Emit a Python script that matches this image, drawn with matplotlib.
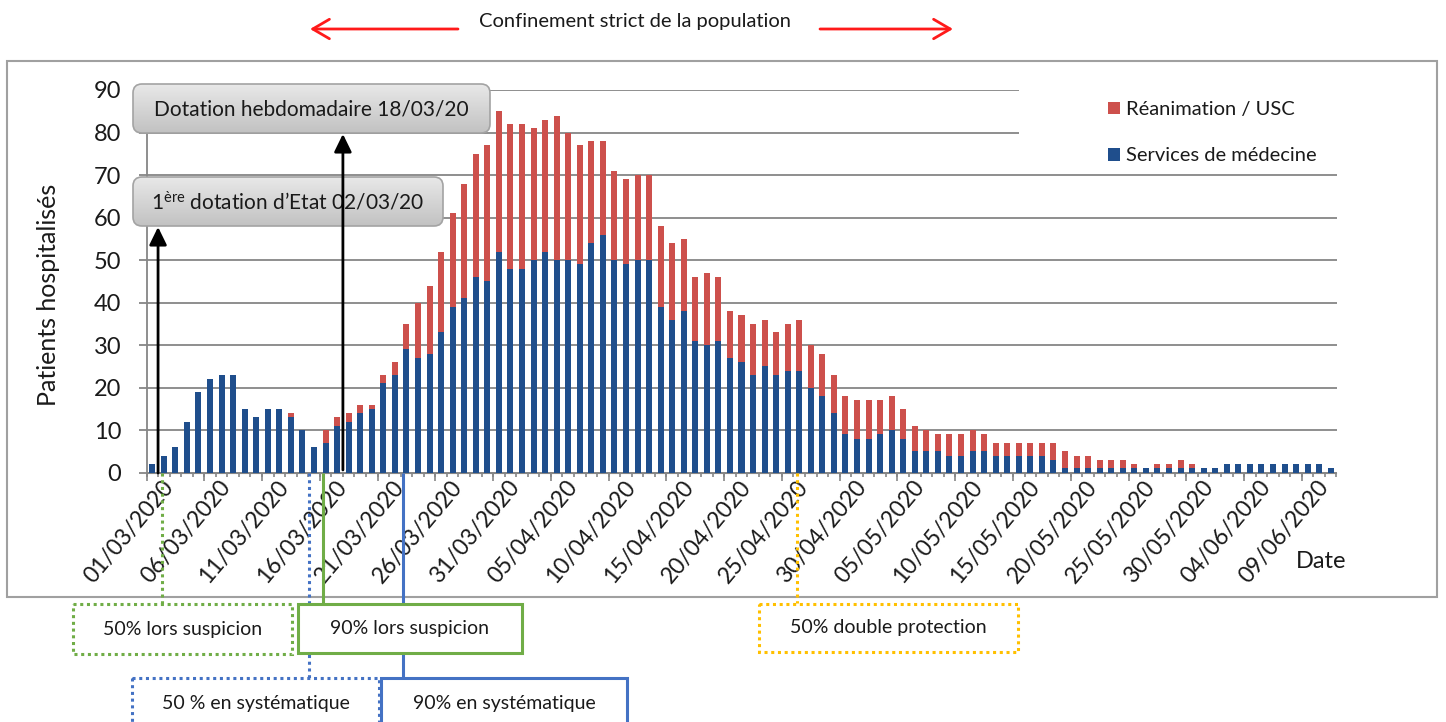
import matplotlib
matplotlib.use('Agg')
import matplotlib.pyplot as plt
import matplotlib.transforms as mtransforms
from matplotlib.patches import FancyBboxPatch, Rectangle
import numpy as np
import pandas as pd

plt.rcParams['font.family'] = ['Lato', 'DejaVu Sans']
plt.rcParams['mathtext.fontset'] = 'custom'
plt.rcParams['mathtext.rm'] = 'Lato'
plt.rcParams['mathtext.it'] = 'Lato:italic'
plt.rcParams['mathtext.bf'] = 'Lato:bold'

# ---------------- data ----------------
dates = pd.date_range('2020-03-01', '2020-06-11', freq='D')
date_labels = [d.strftime('%d/%m/%Y') for d in dates]

medecine = [2, 4, 6, 12, 19, 22, 23, 23, 15, 13,
            15, 15, 13, 10, 6, 7, 11, 12, 14, 15,
            21, 23, 29, 27, 28, 33, 39, 41, 46, 45,
            52, 48, 48, 50, 52, 50, 50, 49, 54, 56,
            50, 49, 50, 50, 39, 36, 38, 31, 30, 31,
            27, 26, 23, 25, 23, 24, 24, 20, 18, 14,
            9, 8, 8, 9, 10, 8, 5, 5, 5, 4,
            4, 5, 5, 4, 4, 4, 4, 4, 3, 1,
            1, 1, 1, 1, 1, 1, 1, 1, 1, 1,
            1, 1, 1, 2, 2, 2, 2, 2, 2, 2,
            2, 2, 1]
reanimation = [0, 0, 0, 0, 0, 0, 0, 0, 0, 0,
               0, 0, 1, 0, 0, 3, 2, 2, 2, 1,
               2, 3, 6, 13, 16, 19, 22, 27, 29, 32,
               33, 34, 34, 31, 31, 34, 30, 28, 24, 22,
               21, 20, 20, 20, 19, 18, 17, 15, 17, 15,
               11, 11, 12, 11, 10, 11, 12, 10, 10, 9,
               9, 9, 9, 8, 8, 7, 6, 5, 4, 5,
               5, 5, 4, 3, 3, 3, 3, 3, 4, 4,
               3, 3, 2, 2, 2, 1, 0, 1, 1, 2,
               1, 0, 0, 0, 0, 0, 0, 0, 0, 0,
               0, 0, 0]
series_names = ['Réanimation / USC', 'Services de médecine']
y_ticks = list(range(0, 91, 10))

BLUE = '#1f4e8c'
RED = '#cd504c'
GRID = '#868686'
AX = '#868686'
TXT = '#1a1a1a'

W, H = 1446, 722
fig = plt.figure(figsize=(W / 100, H / 100), dpi=100)
fig.patch.set_facecolor('white')

# main axes (pixel geometry of reference)
x0p, x1p, y0p, y1p = 146.5, 1336.5, 90.0, 472.7
ax = fig.add_axes([x0p / W, 1 - y1p / H, (x1p - x0p) / W, (y1p - y0p) / H])
ax.set_zorder(2)
ax.patch.set_alpha(0)

x = np.arange(len(dates))
b_med = ax.bar(x, medecine, width=0.52, color=BLUE, zorder=3, label=series_names[1])
b_rea = ax.bar(x, reanimation, width=0.52, bottom=medecine, color=RED, zorder=3,
               label=series_names[0])

ax.set_xlim(-0.5, len(dates) - 0.5)
ax.set_ylim(0, 90)
ax.set_yticks(y_ticks)
ax.yaxis.grid(True, color=GRID, lw=1.3)
ax.set_axisbelow(True)
for s in ['top', 'right']:
    ax.spines[s].set_visible(False)
for s in ['left', 'bottom']:
    ax.spines[s].set_color(AX)
    ax.spines[s].set_linewidth(1.3)

ax.tick_params(axis='y', direction='out', length=6, width=1.3, color=AX,
               labelsize=17, pad=12, labelcolor=TXT)
lab_pos = x[::5]
ax.set_xticks(lab_pos)
ax.set_xticklabels([date_labels[i] for i in lab_pos], rotation=50, ha='right',
                   va='top', rotation_mode='anchor', fontsize=16.5, color=TXT)
ax.tick_params(axis='x', which='major', length=0, pad=3)
ax.set_xticks(np.arange(-0.5, len(dates), 1), minor=True)
ax.tick_params(axis='x', which='minor', length=3, width=1.2, color=AX)
off = mtransforms.ScaledTranslation(9 / 100, 0, fig.dpi_scale_trans)
for lab in ax.get_xticklabels():
    lab.set_transform(lab.get_transform() + off)
sec = ax.secondary_xaxis('bottom')
sec.set_xticks(np.arange(-0.5, len(dates), 5))
sec.tick_params(length=6, width=1.2, color=AX, labelbottom=False)
sec.spines['bottom'].set_color(AX)

ax.set_ylabel('Patients hospitalisés', fontsize=18, color=TXT)
ax.yaxis.label.set_va('center')
ax.yaxis.set_label_coords((49 - x0p) / (x1p - x0p), (y1p - 295) / (y1p - y0p))
ax.set_xlabel('Date', fontsize=17, color=TXT)
ax.xaxis.label.set_va('center')
ax.xaxis.set_label_coords((1321 - x0p) / (x1p - x0p), (y1p - 562) / (y1p - y0p))

# ---------------- overlay in pixel coordinates ----------------
ov = fig.add_axes([0, 0, 1, 1])
ov.set_zorder(3)
ov.patch.set_alpha(0)
ov.set_xlim(0, W)
ov.set_ylim(H, 0)
ov.axis('off')
bt = mtransforms.blended_transform_factory(ax.transData, ov.transData)

# outer chart border
ov.add_patch(Rectangle((7, 61), 1430, 536, fill=False, ec='#a0a0a0', lw=1.5, zorder=1))

# legend area (white, covers grid lines)
ov.add_patch(Rectangle((1019, 78), 320, 92, fc='white', ec='none', zorder=2))
leg = ov.legend([b_rea, b_med], series_names, loc='upper left',
                bbox_to_anchor=(1100 / W, 1 - 93 / H), bbox_transform=fig.transFigure,
                frameon=False, fontsize=14.5, handlelength=0.6, handleheight=0.6,
                handletextpad=0.3, labelspacing=1.45, borderaxespad=0)
for t in leg.get_texts():
    t.set_color(TXT)
leg.set_zorder(4)

# gray rounded boxes with gradient
def gray_box(xa, ya, xb, yb, text):
    p = FancyBboxPatch((xa, ya), xb - xa, yb - ya,
                       boxstyle='round,pad=0,rounding_size=9',
                       fc='none', ec='#a3a3a3', lw=1.2, zorder=6)
    ov.add_patch(p)
    grad = np.linspace(0, 1, 64).reshape(-1, 1)
    im = ov.imshow(grad, cmap=matplotlib.colors.LinearSegmentedColormap.from_list(
        'g', ['#e8e8e8', '#c2c2c2']), extent=[xa, xb, yb, ya], aspect='auto',
        zorder=5, interpolation='bilinear')
    im.set_clip_path(p)
    ov.text((xa + xb) / 2, (ya + yb) / 2 + 1, text, ha='center', va='center',
            fontsize=15, color=TXT, zorder=7)

gray_box(133, 84, 490, 133, 'Dotation hebdomadaire 18/03/20')
gray_box(133, 177, 443, 226, r'1$^{\mathrm{ère}}$ dotation d’Etat 02/03/20')
ov.set_xlim(0, W)
ov.set_ylim(H, 0)

# black arrows
ap_black = dict(arrowstyle='-|>,head_length=0.45,head_width=0.22', color='black',
                lw=2, mutation_scale=24, shrinkA=0, shrinkB=0)
ov.annotate('', xy=(0.5, 227), xytext=(0.5, 473), xycoords=bt, textcoords=bt,
            arrowprops=ap_black, zorder=8)
ov.annotate('', xy=(16.5, 134), xytext=(16.5, 470), xycoords=bt, textcoords=bt,
            arrowprops=ap_black, zorder=8)

# top red arrows + text
ov.text(635, 22, 'Confinement strict de la population', ha='center', va='center',
        fontsize=14.5, color=TXT)
red_ap = dict(arrowstyle='->,head_length=0.6,head_width=0.35', color='#ff1a1a', lw=2,
              mutation_scale=20, shrinkA=0, shrinkB=0)
ov.annotate('', xy=(310, 29), xytext=(458, 29), arrowprops=red_ap)
ov.annotate('', xy=(953, 29), xytext=(820, 29), arrowprops=red_ap)

# protocol boxes below the chart
GREEN = '#70ad47'
LBLUE = '#4472c4'
YELLOW = '#ffc000'
DOT = (0, (1, 1.2))
conn = [(0.8, 604, GREEN, DOT), (13.6, 678, LBLUE, DOT), (14.8, 604, GREEN, '-'),
        (21.7, 678, LBLUE, '-'), (55.8, 603, YELLOW, DOT)]
for xi, yend, c, ls in conn:
    ov.plot([xi, xi], [473, yend], transform=bt, color=c, lw=2.2, ls=ls, zorder=3,
            solid_capstyle='butt', dash_capstyle='butt')

boxes = [(73, 604, 292, 654, GREEN, DOT, '50% lors suspicion'),
         (298, 604, 522, 653, GREEN, '-', '90% lors suspicion'),
         (132, 678, 379, 735, LBLUE, DOT, '50 % en systématique'),
         (381, 678, 627, 735, LBLUE, '-', '90% en systématique'),
         (759, 604, 1018, 652, YELLOW, DOT, '50% double protection')]
for xa, ya, xb, yb, c, ls, t in boxes:
    ov.add_patch(Rectangle((xa, ya), xb - xa, yb - ya, fc='white', ec=c, lw=2.2,
                           ls=ls, zorder=4))
    yc = (ya + yb) / 2 if yb < 700 else 704
    ov.text((xa + xb) / 2, yc, t, ha='center', va='center', fontsize=14,
            color=TXT, zorder=5)

fig.savefig('out.png', dpi=100, facecolor='white')
